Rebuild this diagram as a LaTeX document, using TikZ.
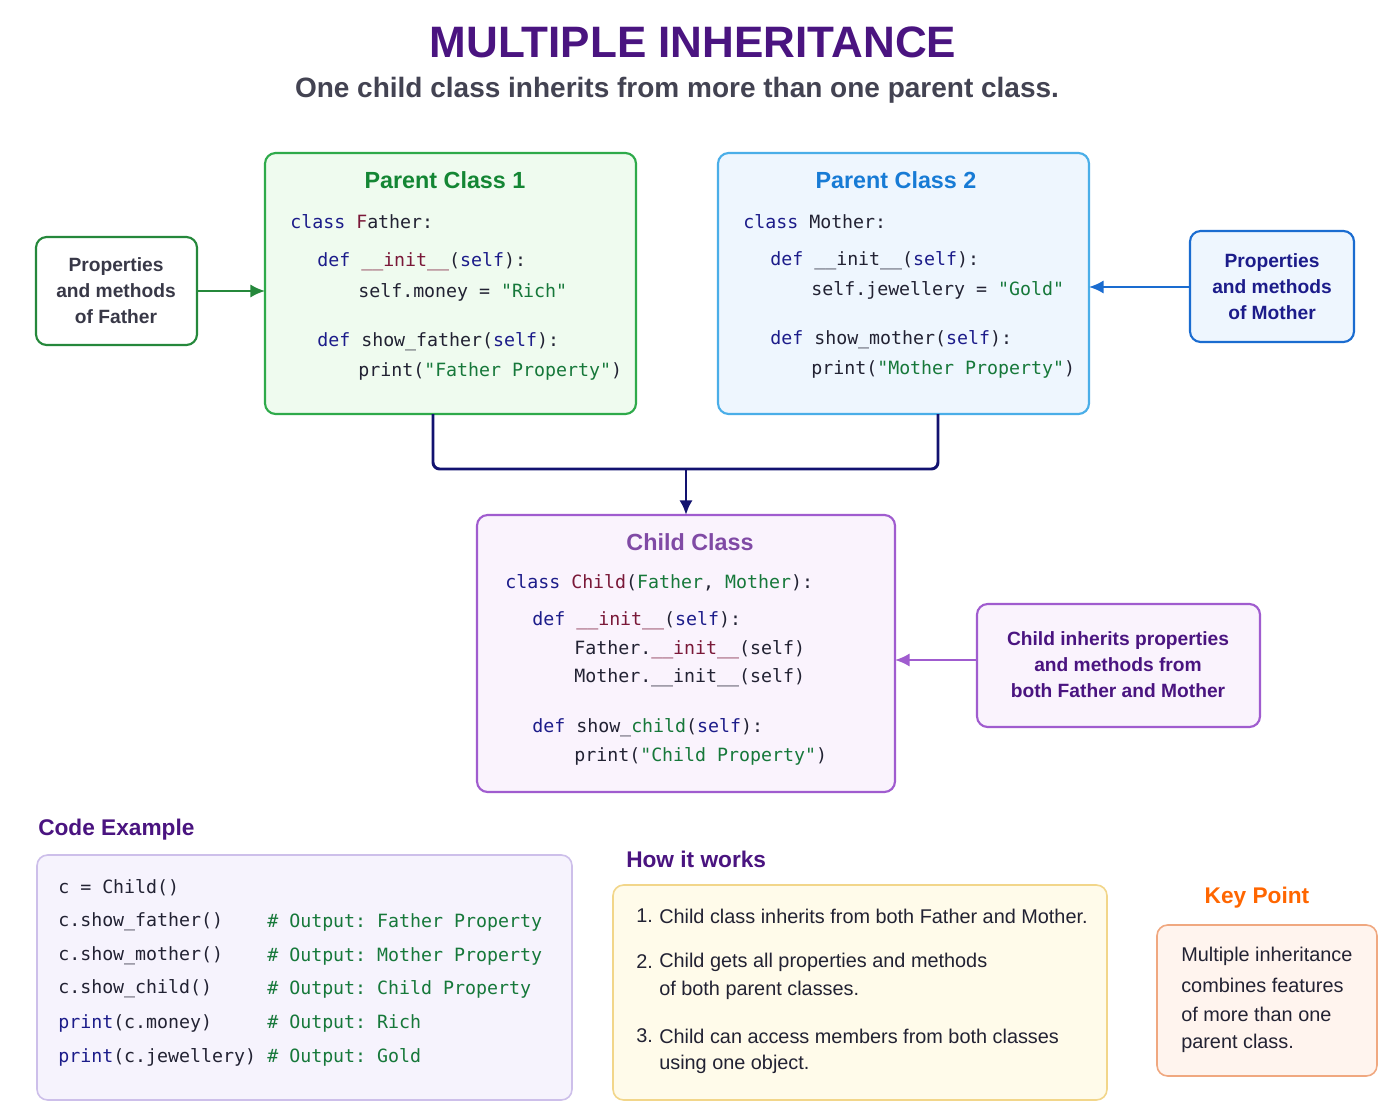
\documentclass[tikz,border=0pt]{standalone}
\usepackage{fontspec}
\setmainfont{Liberation Sans}
\setmonofont{DejaVu Sans Mono}
\usetikzlibrary{arrows.meta}
\definecolor{kw}{HTML}{1C1C8A}
\definecolor{fnc}{HTML}{7A1838}
\definecolor{stc}{HTML}{16783A}
\definecolor{txt}{HTML}{222233}
\definecolor{navy}{HTML}{121270}
\definecolor{ttl}{HTML}{4A1480}
\definecolor{gB}{HTML}{2EAA4A}\definecolor{gF}{HTML}{EFFBEF}
\definecolor{bB}{HTML}{4AAEE8}\definecolor{bF}{HTML}{EEF6FE}
\definecolor{bB2}{HTML}{1A6CD0}
\definecolor{pB}{HTML}{A05CCF}\definecolor{pF}{HTML}{FAF3FD}
\definecolor{lB}{HTML}{CDBFEA}\definecolor{lF}{HTML}{F6F3FD}
\definecolor{yB}{HTML}{F2D68A}\definecolor{yF}{HTML}{FFFBEA}
\definecolor{oB}{HTML}{F0A880}\definecolor{oF}{HTML}{FFF4EE}
\newcommand{\kk}[1]{\textcolor{kw}{#1}}
\newcommand{\ff}[1]{\textcolor{fnc}{#1}}
\newcommand{\sss}[1]{\textcolor{stc}{#1}}
\begin{document}
\begin{tikzpicture}[x=0.75pt,y=-0.75pt,
  box/.style={draw,line width=1.6pt,rounded corners=8pt},
  code/.style={anchor=west,inner sep=0,font=\fontsize{13.7}{16}\ttfamily,text=txt},
  body/.style={anchor=west,inner sep=0,font=\fontsize{14.9}{16}\selectfont,text=txt},
  side/.style={align=center,font=\fontsize{14.4}{19.5}\bfseries,inner sep=0},
  btitle/.style={font=\fontsize{17.5}{20}\bfseries,inner sep=0},
  arr/.style={-{Latex[length=11pt,width=10pt]},line width=1.6pt}]
\useasboundingbox (0,0) rectangle (1400,1120);
\fill[white] (0,0) rectangle (1400,1120);
\node[font=\fontsize{33}{38}\bfseries,text=ttl] (title) at (693,42) {MULTIPLE INHERITANCE};
\node[font=\fontsize{21}{24}\bfseries,text=txt!85] (sub) at (677,90) {One child class inherits from more than one parent class.};
% boxes
\draw[box,draw=gB,fill=gF] (265,153) rectangle (636,414);
\coordinate (p1b) at (433,414); \coordinate (p1l) at (265,291);
\draw[box,draw=bB,fill=bF] (718,153) rectangle (1089,414);
\coordinate (p2b) at (938,414); \coordinate (p2r) at (1089,287);
\draw[box,draw=pB,fill=pF] (477,515) rectangle (895,792);
\coordinate (cht) at (686,515); \coordinate (chr) at (895,660);
\draw[box,draw=gB!80!black,fill=white] (36,237) rectangle (197,345);
\coordinate (fr) at (197,291);
\draw[box,draw=bB2,fill=bF] (1190,231) rectangle (1354,342);
\coordinate (ml) at (1190,287);
\draw[box,draw=pB,fill=pF] (977,604) rectangle (1260,727);
\coordinate (nl) at (977,660);
\draw[box,draw=lB,fill=lF,line width=1.2pt] (37,855) rectangle (572,1100);
\draw[box,draw=yB,fill=yF,line width=1.2pt] (613,885) rectangle (1107,1100);
\draw[box,draw=oB,fill=oF,line width=1.2pt] (1157,925) rectangle (1377,1076);
% side texts
\node[side,text=txt!90] (fs) at (116,291) {Properties\\and methods\\of Father};
\node[side,text=kw] (ms) at (1272,287) {Properties\\and methods\\of Mother};
\node[side,text=ttl] (ns) at (1118,665) {Child inherits properties\\and methods from\\both Father and Mother};
% arrows
\draw[arr,draw=gB!80!black] (fr) -- (p1l);
\draw[arr,draw=bB2] (ml) -- (p2r);
\draw[arr,draw=pB] (nl) -- (chr);
\draw[line width=2.2pt,navy,rounded corners=5pt] (p1b) |- (686,469) -| (p2b);
\draw[arr,draw=navy,line width=2.2pt] (686,469) -- (cht);
% parent 1
\node[btitle,text=stc!90!green] (t1) at (445,180) {Parent Class 1};
\node[code] (a1) at (290,222) {\kk{class} \ff{F}ather:};
\node[code] (a2) at (317,262) {\kk{def} \ff{\_\_init\_\_}(\kk{self}):};
\node[code] (a3) at (358,292) {self.money = \sss{"Rich"}};
\node[code] (a4) at (317,342) {\kk{def} show\_father(\kk{self}):};
\node[code] (a5) at (358,371) {print(\sss{"Father Property"})};
% parent 2
\node[btitle,text=bB2!90!cyan] (t2) at (896,180) {Parent Class 2};
\node[code] (b1) at (743,222) {\kk{class} Mother:};
\node[code] (b2) at (770,261) {\kk{def} \_\_init\_\_(\kk{self}):};
\node[code] (b3) at (811,290) {self.jewellery = \sss{"Gold"}};
\node[code] (b4) at (770,340) {\kk{def} show\_mother(\kk{self}):};
\node[code] (b5) at (811,369) {print(\sss{"Mother Property"})};
% child
\node[btitle,text=pB!80!black] (t3) at (690,542) {Child Class};
\node[code] (c1) at (505,583) {\kk{class} \ff{Child}(\sss{Father}, \sss{Mother}):};
\node[code] (c2) at (532,621) {\kk{def} \ff{\_\_init\_\_}(\kk{self}):};
\node[code] (c3) at (574,650) {Father.\ff{\_\_init\_\_}(self)};
\node[code] (c4) at (574,678) {Mother.\_\_init\_\_(self)};
\node[code] (c5) at (532,728) {\kk{def} show\_\sss{child}(\kk{self}):};
\node[code] (c6) at (574,756) {print(\sss{"Child Property"})};
% code example
\node[anchor=west,inner sep=0,font=\fontsize{17}{20}\bfseries,text=ttl] (ce) at (38,830) {Code Example};
\node[code] (e1) at (58,888) {c = Child()};
\node[code] (e2) at (58,922) {c.show\_father()};
\node[code] (e3) at (58,956) {c.show\_mother()};
\node[code] (e4) at (58,989) {c.show\_child()};
\node[code] (e5) at (58,1023) {\kk{print}(c.money)};
\node[code] (e6) at (58,1057) {\kk{print}(c.jewellery)};
\node[code,text=stc] (o2) at (267,922) {\# Output: Father Property};
\node[code,text=stc] (o3) at (267,956) {\# Output: Mother Property};
\node[code,text=stc] (o4) at (267,989) {\# Output: Child Property};
\node[code,text=stc] (o5) at (267,1023) {\# Output: Rich};
\node[code,text=stc] (o6) at (267,1057) {\# Output: Gold};
% how it works
\node[anchor=west,inner sep=0,font=\fontsize{17}{20}\bfseries,text=ttl] (hw) at (626,859) {How it works};
\node[body] (h1n) at (636,916) {1.};
\node[body] (h1) at (659,916) {Child class inherits from both Father and Mother.};
\node[body] (h2n) at (636,962) {2.};
\node[body] (h2) at (659,962) {Child gets all properties and methods};
\node[body] (h2b) at (659,990) {of both parent classes.};
\node[body] (h3n) at (636,1036) {3.};
\node[body] (h3) at (659,1036) {Child can access members from both classes};
\node[body] (h3b) at (659,1064) {using one object.};
% key point
\node[font=\fontsize{17}{20}\bfseries,text=orange!80!red,inner sep=0] (kp) at (1257,898) {Key Point};
\node[body] (k1) at (1181,956) {Multiple inheritance};
\node[body] (k2) at (1181,985) {combines features};
\node[body] (k3) at (1181,1014) {of more than one};
\node[body] (k4) at (1181,1043) {parent class.};
\end{tikzpicture}
\end{document}
